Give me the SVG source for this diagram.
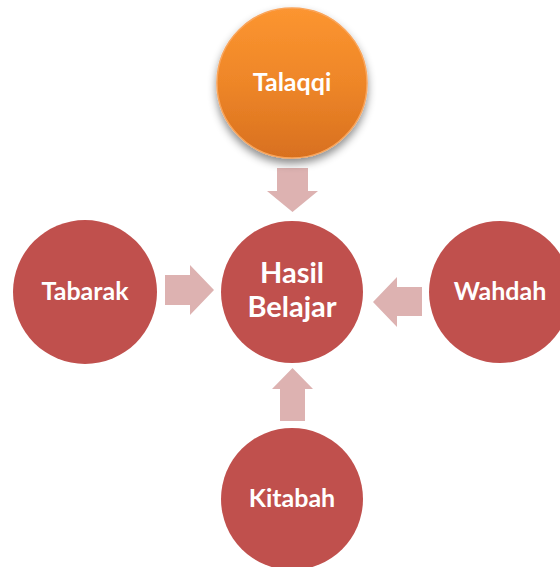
<svg xmlns="http://www.w3.org/2000/svg" width="560" height="567" viewBox="0 0 560 567">
<defs>
<linearGradient id="og" x1="0" y1="0" x2="0" y2="1">
<stop offset="0" stop-color="#FC9530"/>
<stop offset="0.5" stop-color="#EE8628"/>
<stop offset="1" stop-color="#D8701F"/>
</linearGradient>
<filter id="sh" x="-30%" y="-30%" width="160%" height="170%">
<feDropShadow dx="0" dy="5" stdDeviation="4" flood-color="#000" flood-opacity="0.45"/>
</filter>
<style>
.red{fill:#C0504D;}
.arrow{fill:#DDB2B1;}
.lbl{font-family:"Lato","Open Sans","Liberation Sans",sans-serif;font-weight:bold;fill:#FFFFFF;text-anchor:middle;}
.s{font-size:25px;}
.b{font-size:29px;}
</style>
</defs>
<rect width="560" height="567" fill="#FFFFFF"/>
<g id="connectors">
<polygon class="arrow" points="277,168 308,168 308,191 318,191 292.5,212 267,191 277,191"/>
<polygon class="arrow" points="165,275 190,275 190,265 214,290 190,315 190,305 165,305"/>
<polygon class="arrow" points="422,287 397,287 397,277 373,302 397,327 397,316 422,316"/>
<polygon class="arrow" points="280,421 305,421 305,389 313,389 292.5,368 272,389 280,389"/>
</g>
<g id="talaqqi">
<circle cx="292" cy="83" r="75" fill="url(#og)" stroke="#F9A45A" stroke-width="1.5" filter="url(#sh)"/>
<text class="lbl s" x="292" y="91">Talaqqi</text>
</g>
<g id="hasil">
<circle class="red" cx="292" cy="292" r="71"/>
<text class="lbl b" x="292" y="283">Hasil</text>
<text class="lbl b" x="292" y="317">Belajar</text>
</g>
<g id="tabarak">
<circle class="red" cx="85" cy="292" r="72"/>
<text class="lbl s" x="85" y="300">Tabarak</text>
</g>
<g id="wahdah">
<circle class="red" cx="500" cy="292" r="71"/>
<text class="lbl s" x="500" y="300">Wahdah</text>
</g>
<g id="kitabah">
<circle class="red" cx="292" cy="499" r="71"/>
<text class="lbl s" x="292" y="507">Kitabah</text>
</g>
</svg>
